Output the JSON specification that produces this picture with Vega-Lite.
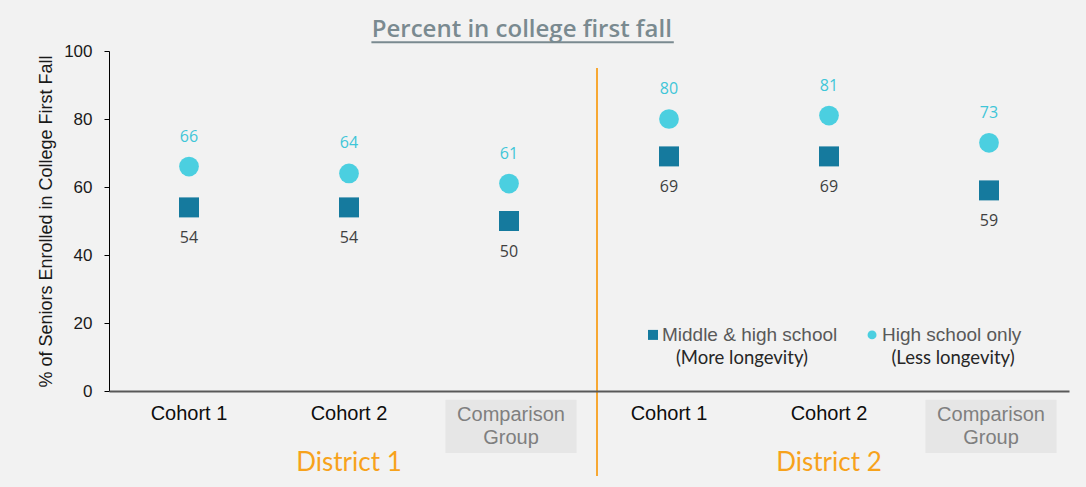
{
  "$schema": "https://vega.github.io/schema/vega-lite/v6.json",
  "width": 960,
  "height": 340,
  "autosize": "none",
  "padding": {"left": 109, "top": 51, "right": 17, "bottom": 96},
  "background": "#F2F2F2",
  "config": {"view": {"stroke": null}},
  "datasets": {
    "points": [
      {"group": "D1|Cohort 1", "type": "Middle & high school", "value": 54},
      {"group": "D1|Cohort 1", "type": "High school only", "value": 66},
      {"group": "D1|Cohort 2", "type": "Middle & high school", "value": 54},
      {"group": "D1|Cohort 2", "type": "High school only", "value": 64},
      {"group": "D1|Comparison Group", "type": "Middle & high school", "value": 50},
      {"group": "D1|Comparison Group", "type": "High school only", "value": 61},
      {"group": "D2|Cohort 1", "type": "Middle & high school", "value": 69},
      {"group": "D2|Cohort 1", "type": "High school only", "value": 80},
      {"group": "D2|Cohort 2", "type": "Middle & high school", "value": 69},
      {"group": "D2|Cohort 2", "type": "High school only", "value": 81},
      {"group": "D2|Comparison Group", "type": "Middle & high school", "value": 59},
      {"group": "D2|Comparison Group", "type": "High school only", "value": 73}
    ],
    "cohorts": [
      {"group": "D1|Cohort 1", "label": "Cohort 1"},
      {"group": "D1|Cohort 2", "label": "Cohort 2"},
      {"group": "D2|Cohort 1", "label": "Cohort 1"},
      {"group": "D2|Cohort 2", "label": "Cohort 2"}
    ],
    "comparisons": [
      {"group": "D1|Comparison Group"},
      {"group": "D2|Comparison Group"}
    ],
    "districts": [
      {"group": "D1|Cohort 2", "label": "District 1"},
      {"group": "D2|Cohort 2", "label": "District 2"}
    ],
    "single": [
      {"item": "annotation"}
    ]
  },
  "layer": [
    {
      "data": {"name": "comparisons"},
      "mark": {"type": "rect", "color": "#E6E6E6", "width": {"band": 0.82}, "xOffset": 2},
      "encoding": {
        "x": {
          "field": "group",
          "type": "nominal",
          "scale": {
            "type": "band",
            "domain": ["D1|Cohort 1", "D1|Cohort 2", "D1|Comparison Group", "D2|Cohort 1", "D2|Cohort 2", "D2|Comparison Group"],
            "paddingInner": 0,
            "paddingOuter": 0
          },
          "axis": {"domain": true, "domainColor": "#595959", "domainWidth": 2, "ticks": false, "labels": false, "title": null, "grid": false}
        },
        "y": {
          "datum": -2.6,
          "type": "quantitative",
          "scale": {"domain": [0, 100], "nice": false, "zero": true},
          "axis": {
            "values": [0, 20, 40, 60, 80, 100],
            "grid": false,
            "domainColor": "#000000",
            "domainWidth": 1,
            "tickColor": "#000000",
            "tickSize": 5,
            "labelFont": "Liberation Sans",
            "labelFontSize": 17,
            "labelColor": "#1A1A1A",
            "labelPadding": 12,
            "title": "% of Seniors Enrolled in College First Fall",
            "titleFont": "Liberation Sans",
            "titleFontSize": 18,
            "titleFontWeight": "normal",
            "titleColor": "#1A1A1A",
            "titlePadding": 8
          }
        },
        "y2": {"datum": -18.2}
      }
    },
    {
      "data": {"name": "cohorts"},
      "mark": {"type": "text", "font": "Liberation Sans", "fontSize": 20, "color": "#0D0D0D", "baseline": "middle", "align": "center"},
      "encoding": {
        "x": {"field": "group", "type": "nominal"},
        "y": {"datum": -6.8},
        "text": {"field": "label"}
      }
    },
    {
      "data": {"name": "comparisons"},
      "mark": {"type": "text", "font": "Liberation Sans", "fontSize": 20, "color": "#7F7F7F", "baseline": "middle", "align": "center", "xOffset": 2},
      "encoding": {
        "x": {"field": "group", "type": "nominal"},
        "y": {"datum": -7.1},
        "text": {"value": "Comparison"}
      }
    },
    {
      "data": {"name": "comparisons"},
      "mark": {"type": "text", "font": "Liberation Sans", "fontSize": 20, "color": "#7F7F7F", "baseline": "middle", "align": "center", "xOffset": 2},
      "encoding": {
        "x": {"field": "group", "type": "nominal"},
        "y": {"datum": -13.8},
        "text": {"value": "Group"}
      }
    },
    {
      "data": {"name": "districts"},
      "mark": {"type": "text", "font": "Lato", "fontSize": 26, "fontWeight": "normal", "color": "#F7A21B", "baseline": "middle", "align": "center"},
      "encoding": {
        "x": {"field": "group", "type": "nominal"},
        "y": {"datum": -21.2},
        "text": {"field": "label"}
      }
    },
    {
      "data": {"name": "single"},
      "mark": {"type": "rule", "color": "#F7A833", "strokeWidth": 2},
      "encoding": {
        "x": {"datum": "D2|Cohort 1", "bandPosition": 0.05},
        "y": {"datum": 95},
        "y2": {"datum": -25}
      }
    },
    {
      "data": {"name": "single"},
      "mark": {"type": "text", "font": "Open Sans", "fontSize": 24, "fontWeight": 600, "color": "#7A8A90", "baseline": "middle", "align": "center"},
      "encoding": {
        "x": {"datum": "D1|Comparison Group", "bandPosition": 0.58},
        "y": {"datum": 106.2},
        "text": {"value": "Percent in college first fall"}
      }
    },
    {
      "data": {"name": "single"},
      "mark": {"type": "rule", "color": "#7A8A90", "strokeWidth": 2},
      "encoding": {
        "x": {"datum": "D1|Cohort 2", "bandPosition": 0.64},
        "x2": {"datum": "D2|Cohort 1", "bandPosition": 0.53},
        "y": {"datum": 102.6}
      }
    },
    {
      "data": {"name": "points"},
      "mark": {"type": "point", "filled": true, "opacity": 1},
      "encoding": {
        "x": {"field": "group", "type": "nominal"},
        "y": {"field": "value", "type": "quantitative"},
        "shape": {"field": "type", "type": "nominal", "scale": {"domain": ["Middle & high school", "High school only"], "range": ["square", "circle"]}, "legend": null},
        "color": {"field": "type", "type": "nominal", "scale": {"domain": ["Middle & high school", "High school only"], "range": ["#157A9E", "#4BCFE0"]}, "legend": null},
        "size": {"field": "type", "type": "nominal", "scale": {"domain": ["Middle & high school", "High school only"], "range": [400, 390]}, "legend": null}
      }
    },
    {
      "data": {"name": "points"},
      "transform": [{"filter": "datum.type == 'High school only'"}],
      "mark": {"type": "text", "font": "Open Sans", "fontSize": 16, "color": "#3FC6D8", "dy": -30, "baseline": "middle"},
      "encoding": {
        "x": {"field": "group", "type": "nominal"},
        "y": {"field": "value", "type": "quantitative"},
        "text": {"field": "value"}
      }
    },
    {
      "data": {"name": "points"},
      "transform": [{"filter": "datum.type == 'Middle & high school'"}],
      "mark": {"type": "text", "font": "Open Sans", "fontSize": 16, "color": "#404040", "dy": 31, "baseline": "middle"},
      "encoding": {
        "x": {"field": "group", "type": "nominal"},
        "y": {"field": "value", "type": "quantitative"},
        "text": {"field": "value"}
      }
    },
    {
      "data": {"name": "single"},
      "mark": {"type": "point", "shape": "square", "filled": true, "opacity": 1, "color": "#157A9E", "size": 100},
      "encoding": {
        "x": {"datum": "D2|Cohort 1", "bandPosition": 0.4},
        "y": {"datum": 16.5}
      }
    },
    {
      "data": {"name": "single"},
      "mark": {"type": "text", "font": "Liberation Sans", "fontSize": 19, "color": "#595959", "align": "left", "baseline": "middle"},
      "encoding": {
        "x": {"datum": "D2|Cohort 1", "bandPosition": 0.456},
        "y": {"datum": 16.5},
        "text": {"value": "Middle & high school"}
      }
    },
    {
      "data": {"name": "single"},
      "mark": {"type": "text", "font": "Lato", "fontSize": 18.5, "color": "#262626", "align": "center", "baseline": "middle"},
      "encoding": {
        "x": {"datum": "D2|Cohort 1", "bandPosition": 0.956},
        "y": {"datum": 9.7},
        "text": {"value": "(More longevity)"}
      }
    },
    {
      "data": {"name": "single"},
      "mark": {"type": "point", "shape": "circle", "filled": true, "opacity": 1, "color": "#4BCFE0", "size": 80},
      "encoding": {
        "x": {"datum": "D2|Cohort 2", "bandPosition": 0.769},
        "y": {"datum": 16.5}
      }
    },
    {
      "data": {"name": "single"},
      "mark": {"type": "text", "font": "Liberation Sans", "fontSize": 19, "color": "#595959", "align": "left", "baseline": "middle"},
      "encoding": {
        "x": {"datum": "D2|Cohort 2", "bandPosition": 0.831},
        "y": {"datum": 16.5},
        "text": {"value": "High school only"}
      }
    },
    {
      "data": {"name": "single"},
      "mark": {"type": "text", "font": "Lato", "fontSize": 18.5, "color": "#262626", "align": "center", "baseline": "middle"},
      "encoding": {
        "x": {"datum": "D2|Comparison Group", "bandPosition": 0.275},
        "y": {"datum": 9.7},
        "text": {"value": "(Less longevity)"}
      }
    }
  ]
}
